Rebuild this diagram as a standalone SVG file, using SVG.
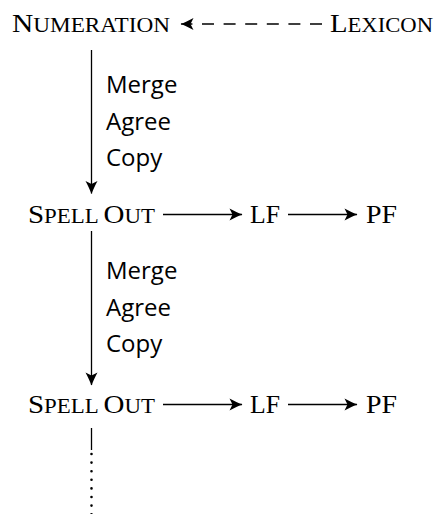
<svg xmlns="http://www.w3.org/2000/svg" width="437" height="514" viewBox="0 0 437 514">
<style>
.sc{font-family:"Liberation Serif",serif;font-size:26px;fill:#000}
.sc .s{font-size:20.5px}
.op{font-family:"Open Sans",sans-serif;font-size:24px;fill:#000}
.ln{stroke:#000;stroke-width:1.3;fill:none}
</style>
<defs>
<marker id="ah" markerUnits="userSpaceOnUse" markerWidth="16" markerHeight="14" viewBox="-14 -7 16 14" refX="0" refY="0" orient="auto">
<path d="M0.5,0 C-3,-1.2 -8,-3.5 -12.5,-6 L-9.5,0 L-12.5,6 C-8,3.5 -3,1.2 0.5,0 Z" fill="#000"/>
</marker>
</defs>
<rect width="437" height="514" fill="#fff"/>
<g id="connectors">
<path class="ln" d="M322,24 L186,24" stroke-dasharray="12 9.6"/>
<path class="ln" d="M190,24 L181,24" marker-end="url(#ah)"/>
<path class="ln" d="M91.5,50 L91.5,193.5" marker-end="url(#ah)"/>
<path class="ln" d="M163,214.5 L242,214.5" marker-end="url(#ah)"/>
<path class="ln" d="M288,214.5 L357,214.5" marker-end="url(#ah)"/>
<path class="ln" d="M91.5,231 L91.5,385" marker-end="url(#ah)"/>
<path class="ln" d="M163,404.5 L242,404.5" marker-end="url(#ah)"/>
<path class="ln" d="M288,404.5 L357,404.5" marker-end="url(#ah)"/>
<path class="ln" d="M91.5,428 L91.5,450"/>
<path d="M91.5,454 L91.5,516" stroke="#000" stroke-width="2.6" stroke-linecap="round" stroke-dasharray="0 8.6" fill="none"/>
</g>
<g id="numeration"><text class="sc" x="12" y="32" textLength="158" lengthAdjust="spacingAndGlyphs">N<tspan class="s">UMERATION</tspan></text></g>
<g id="lexicon"><text class="sc" x="330" y="32" textLength="103" lengthAdjust="spacingAndGlyphs">L<tspan class="s">EXICON</tspan></text></g>
<g id="ops1">
<text class="op" x="106" y="93">Merge</text>
<text class="op" x="106" y="130">Agree</text>
<text class="op" x="106" y="166">Copy</text>
</g>
<g id="spellout1"><text class="sc" x="28" y="223" textLength="127" lengthAdjust="spacingAndGlyphs">S<tspan class="s">PELL </tspan>O<tspan class="s">UT</tspan></text></g>
<g id="lf1"><text class="sc" x="250" y="223" textLength="30" lengthAdjust="spacingAndGlyphs">LF</text></g>
<g id="pf1"><text class="sc" x="366" y="223" textLength="31" lengthAdjust="spacingAndGlyphs">PF</text></g>
<g id="ops2">
<text class="op" x="106" y="279">Merge</text>
<text class="op" x="106" y="316">Agree</text>
<text class="op" x="106" y="352">Copy</text>
</g>
<g id="spellout2"><text class="sc" x="28" y="413" textLength="127" lengthAdjust="spacingAndGlyphs">S<tspan class="s">PELL </tspan>O<tspan class="s">UT</tspan></text></g>
<g id="lf2"><text class="sc" x="250" y="413" textLength="30" lengthAdjust="spacingAndGlyphs">LF</text></g>
<g id="pf2"><text class="sc" x="366" y="413" textLength="31" lengthAdjust="spacingAndGlyphs">PF</text></g>
</svg>
